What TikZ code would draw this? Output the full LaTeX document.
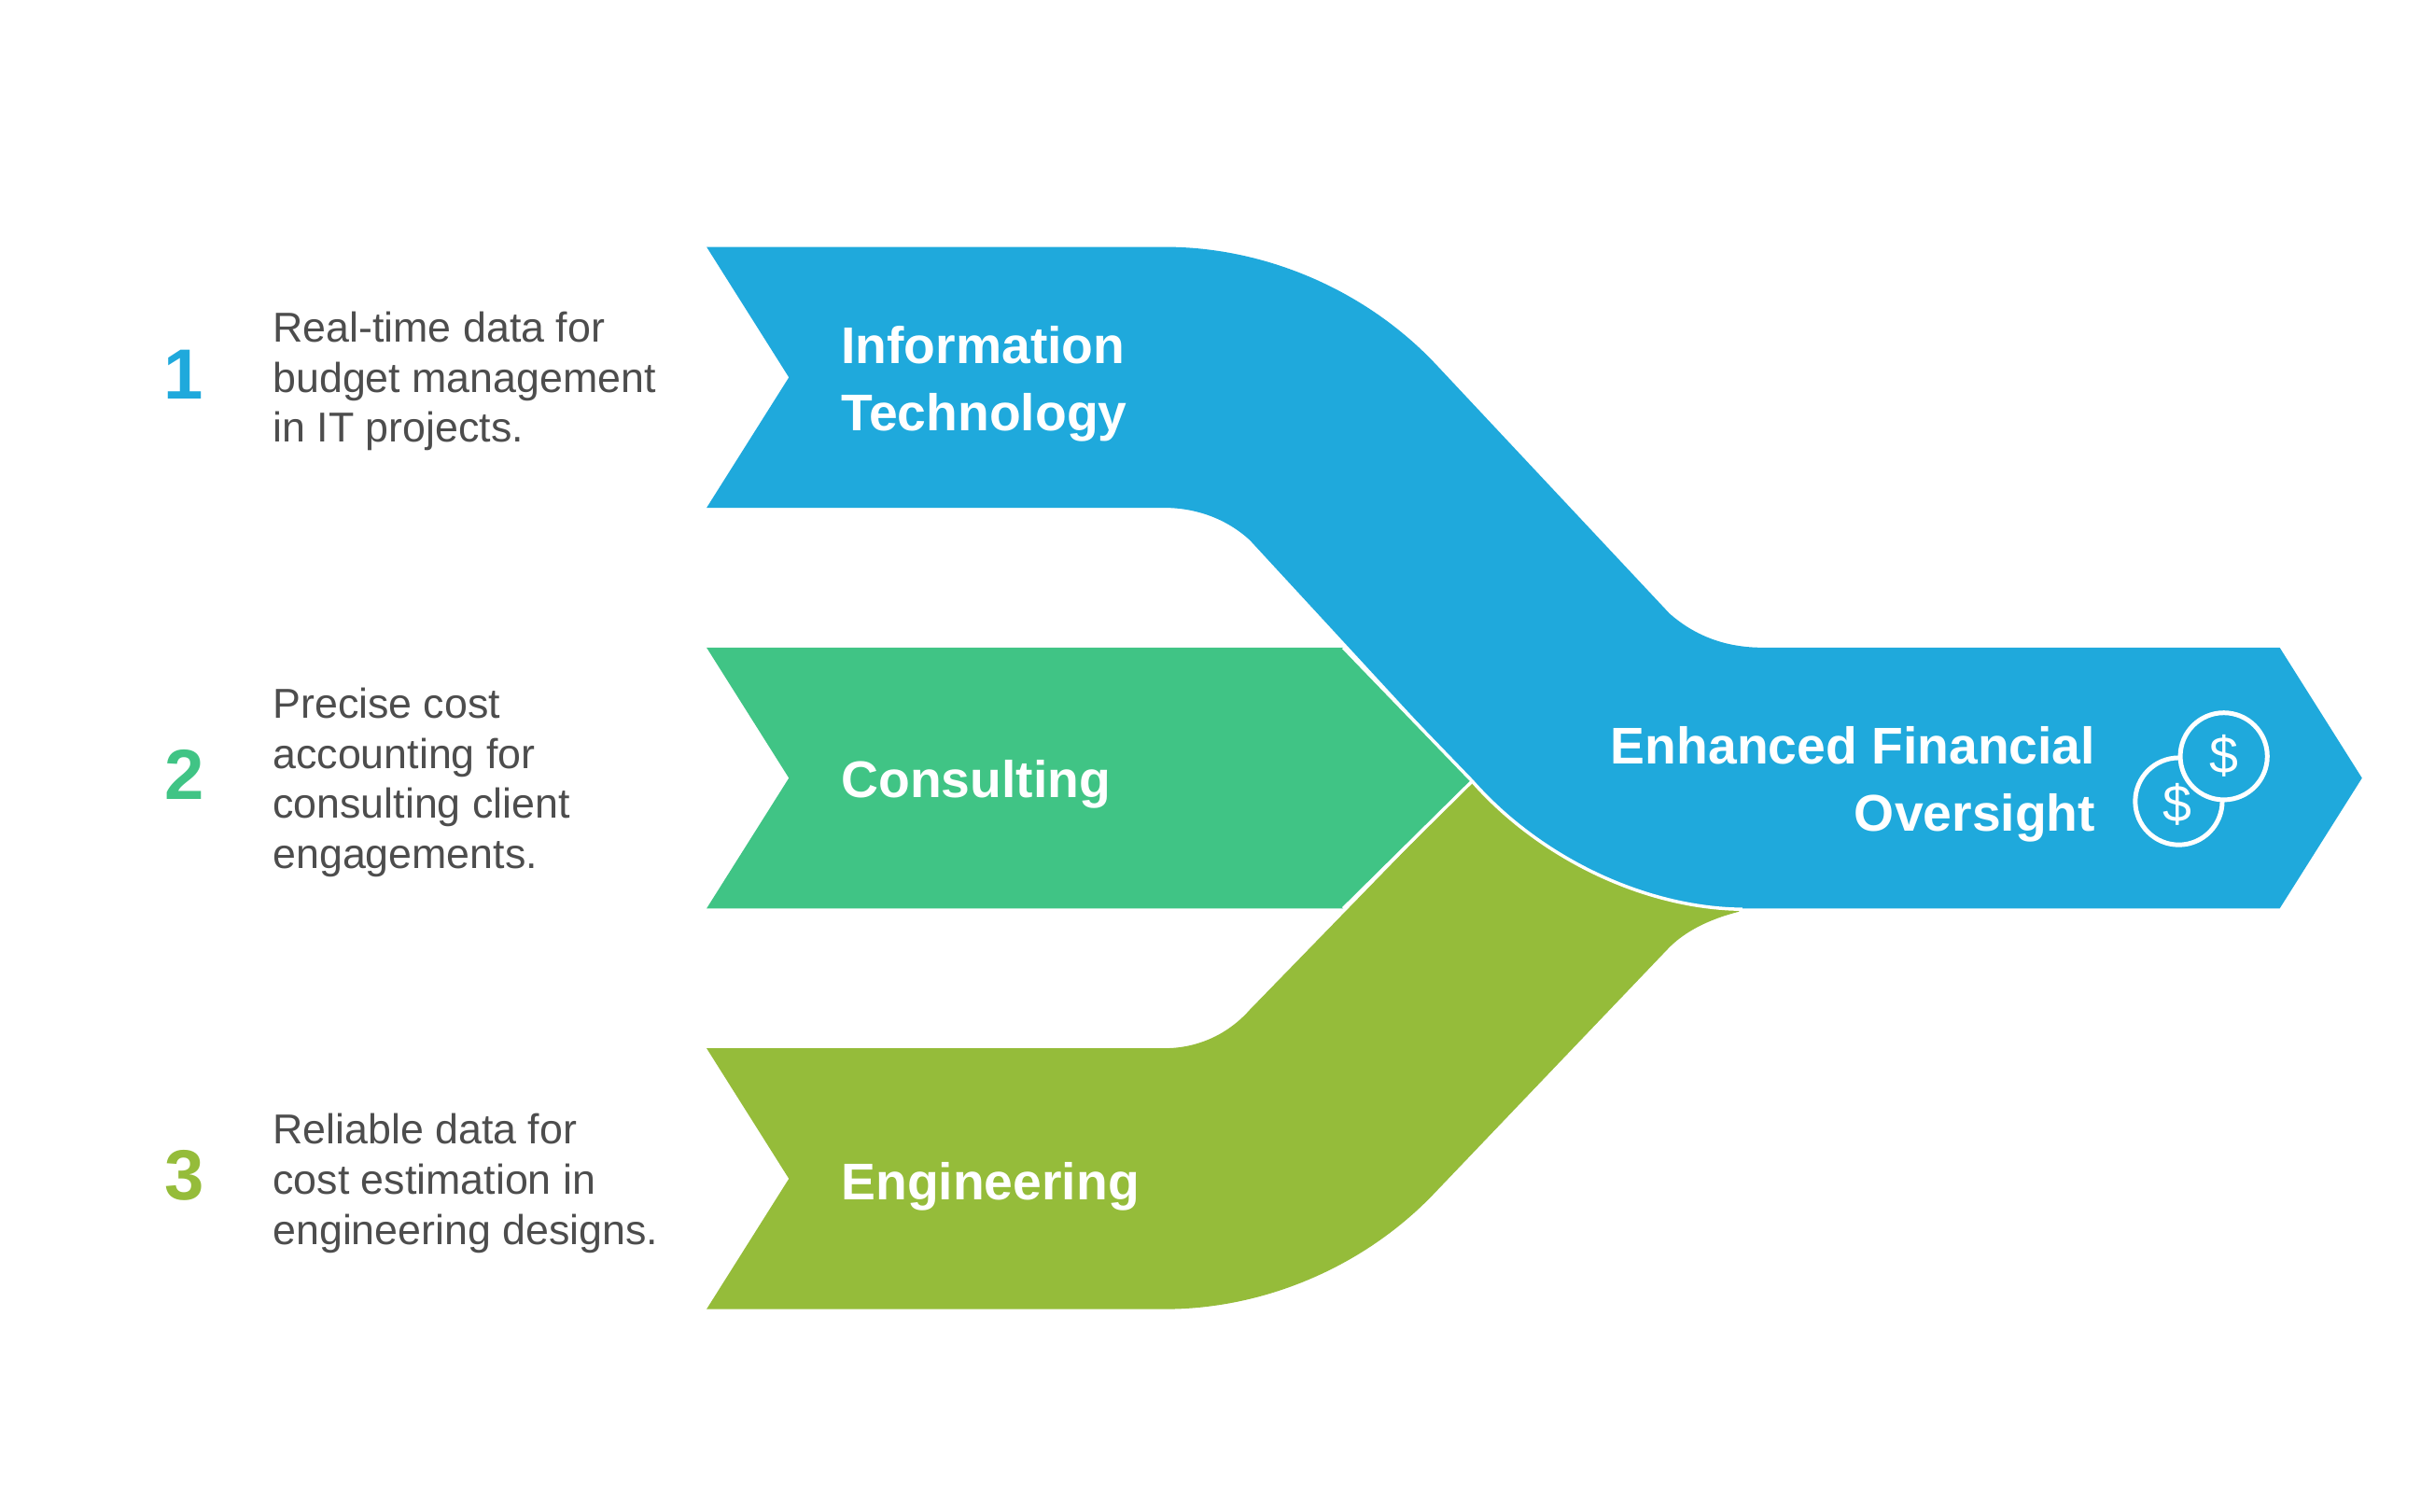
\documentclass[tikz,border=0pt]{standalone}
\usepackage{fontspec}
\setmainfont{Liberation Sans}
\usetikzlibrary{positioning}
\usetikzlibrary{calc}
\definecolor{ItBlue}{HTML}{1FA9DC}
\definecolor{ConsGreen}{HTML}{40C485}
\definecolor{EngOlive}{HTML}{95BC3A}
\definecolor{NoteGrey}{HTML}{4D4D4D}
\tikzset{
	BandLabel/.style={text=white,font=\fontsize{9.45}{12.3}\selectfont\bfseries,inner sep=0pt},
	NoteText/.style={text=NoteGrey,font=\fontsize{7.65}{9.16}\selectfont,align=left,anchor=west,inner sep=0pt},
	NumText/.style={font=\fontsize{13}{13}\selectfont\bfseries,inner sep=0pt},
	Coin/.style={draw=white,line width=0.85pt,fill=ItBlue},
	CoinSign/.style={text=white,font=\fontsize{9.5}{9.5}\selectfont,inner sep=0pt},
	Gap/.style={draw=white,line width=0.6pt}
}
\begin{document}
\begin{tikzpicture}[x=0.01cm,y=-0.01cm]
		\useasboundingbox[fill=white] (0,0) rectangle (1568,973.6);
		% bands
		\fill[EngOlive] (455,675) -- (508,759) -- (455,843) -- (750,843)
			.. controls (815,843) and (880,815) .. (925,767) -- (1075,610)
			.. controls (1085,600) and (1100,592) .. (1120,587) -- (1000,520) -- (948,503)
			-- (805,650) .. controls (790,667) and (770,675) .. (750,675) -- cycle;
		\fill[ConsGreen] (455,417) -- (508,501) -- (455,585) -- (865,585) -- (948,503) -- (865,417) -- cycle;
		\coordinate (crossing) at (948,503);
		\coordinate (greentop) at (865,417);
		\coordinate (greenbot) at (865,585);
		\coordinate (olivetip) at (1122,585.5);
		\draw[Gap] (crossing) -- (greenbot);
		\fill[ItBlue] (455,159) -- (508,243) -- (455,327) -- (750,327)
			.. controls (770,327) and (790,334) .. (805,348) -- (948,503)
			.. controls (992,553) and (1060,585) .. (1125,585) -- (1468,585)
			-- (1521,501) -- (1468,417) -- (1135,417)
			.. controls (1112,417) and (1092,410) .. (1075,395) -- (925,235)
			.. controls (880,187) and (815,159) .. (750,159) -- cycle;
		\draw[Gap] (greentop) -- (crossing) .. controls (992,553) and (1060,585) .. (olivetip);
		% labels on the bands
		\node[BandLabel,align=left,anchor=west] (itlabel) at (541,247.5) {Information\\Technology};
		\node[BandLabel,anchor=west] (conslabel) at (541,505) {Consulting};
		\node[BandLabel,anchor=west] (englabel) at (541,764) {Engineering};
		\node[BandLabel,align=right,anchor=east] (outlabel) at (1350,505) {Enhanced Financial\\Oversight};
		% coins
		\node[Coin,circle,minimum size=0.56cm,inner sep=0pt] (coinlow) at (1403,516) {};
		\node[Coin,circle,minimum size=0.56cm,inner sep=0pt] (coinup) at (1432,487) {};
		\node[CoinSign] (signlow) at (1402,518) {\$};
		\node[CoinSign] (signup) at (coinup) {\$};
		% numbers and notes
		\node[NumText,text=ItBlue] (numa) at (118,241) {1};
		\node[NumText,text=ConsGreen] (numb) at (119,499) {2};
		\node[NumText,text=EngOlive] (numc) at (119,757) {3};
		\node[NoteText] (notea) at (175,245.5) {Real-time data for\\budget management\\in IT projects.};
		\node[NoteText] (noteb) at (175,504) {Precise cost\\accounting for\\consulting client\\engagements.};
		\node[NoteText] (notec) at (175,762) {Reliable data for\\cost estimation in\\engineering designs.};
\end{tikzpicture}
\end{document}
